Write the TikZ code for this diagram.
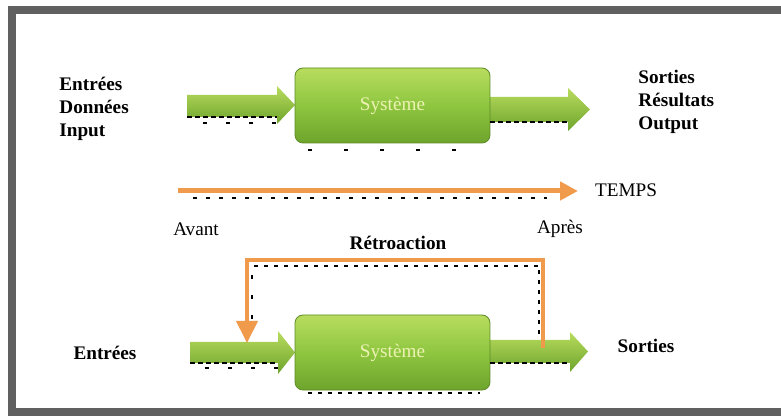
\documentclass[tikz,border=0pt]{standalone}
\usepackage{fontspec}
\setmainfont{Liberation Serif}
\usetikzlibrary{arrows.meta}
\definecolor{framegray}{HTML}{606060}
\definecolor{boxlight}{HTML}{B8DC5E}
\definecolor{boxmid}{HTML}{8EC640}
\definecolor{boxdark}{HTML}{6EA42C}
\definecolor{timeorange}{HTML}{F09A4C}
\definecolor{systext}{HTML}{EEF2B4}

\begin{document}
\begin{tikzpicture}[x=0.5pt,y=-0.5pt,
  every node/.style={font=\fontsize{9.6}{11.5}\selectfont, inner sep=0pt},
  lbl/.style={font=\fontsize{9.6}{11.5}\selectfont\bfseries, align=left},
  sysbox/.style={rounded corners=4pt, top color=boxlight, bottom color=boxdark, middle color=boxmid,
    draw=boxdark!85!black, line width=0.4pt, minimum width=97.5pt, minimum height=37.5pt, text=systext},
  fatarrow/.style={top color=boxlight, bottom color=boxdark},
  edgedash/.style={black, line width=0.7pt, dash pattern=on 2.5pt off 1.5pt},
  marks/.style={black, line width=1.2pt},
  timeline/.style={timeorange, line width=2.5pt, -{Triangle[width=9pt,length=9pt]}},
  loopline/.style={timeorange, line width=2pt, -{Triangle[width=10.5pt,length=11pt]}}]
  \useasboundingbox (0,0) rectangle (781,416);
  % frame
  \begin{scope}
    \clip (0,0) rectangle (781,416);
    \draw[framegray, line width=4pt] (12,10) rectangle (800,412);
  \end{scope}
  % system 1
  \shade[fatarrow] (187,95) -- (277,95) -- (277,86) -- (295,105) -- (277,124) -- (277,117) -- (187,117) -- cycle;
  \shade[fatarrow] (490,97) -- (568,97) -- (568,88) -- (590,109.5) -- (568,131) -- (568,122) -- (490,122) -- cycle;
  \node[sysbox] (sys1) at (392.5,105.5) {Système};
  \draw[edgedash] (187,117) -- (277,117);
  \draw[edgedash] (490,122) -- (568,122);
  \draw[marks, dash pattern=on 2pt off 9.5pt] (203,123) -- (285,123);
  \draw[marks, dash pattern=on 2pt off 16pt] (308,150) -- (460,150);
  \node[lbl, anchor=west] (inlbl) at (59,108.5) {Entrées\\Données\\Input};
  \node[lbl, anchor=west] (outlbl) at (638,101.5) {Sorties\\Résultats\\Output};
  % time line
  \coordinate (t0) at (178,191);
  \coordinate (t1) at (578,191);
  \draw[timeline] (t0) -- (t1);
  \draw[marks, dash pattern=on 2pt off 4.5pt] (193,198) -- (547,198);
  \node (temps) at (626,190) {TEMPS};
  \node (avant) at (196,229) {Avant};
  \node (apres) at (560,229) {Après};
  % system 2 with feedback
  \shade[fatarrow] (190,342) -- (278,342) -- (278,331) -- (295,352.5) -- (278,374) -- (278,363) -- (190,363) -- cycle;
  \shade[fatarrow] (490,340) -- (570,340) -- (570,332) -- (588,351.5) -- (570,372) -- (570,363) -- (490,363) -- cycle;
  \node[sysbox] (sys2) at (392.5,352.5) {Système};
  \draw[edgedash] (190,363) -- (278,363);
  \draw[edgedash] (490,363) -- (570,363);
  \draw[marks, dash pattern=on 2pt off 9.5pt] (205,368) -- (285,368);
  \draw[marks, dash pattern=on 2pt off 3pt] (308,393) -- (480,393);
  \coordinate (fbout) at (543,348);
  \coordinate (fbin) at (247,343);
  \draw[loopline] (fbout) -- (543,260) -| (fbin);
  \draw[marks, dash pattern=on 2pt off 3pt] (254,266) -- (538,266) (539,270) -- (539,335);
  \draw[marks, dash pattern=on 2pt off 8pt] (252,275) -- (252,330);
  \node[lbl] (retro) at (398,243) {Rétroaction};
  \node[lbl] (in2lbl) at (105,353) {Entrées};
  \node[lbl] (out2lbl) at (646,346) {Sorties};
\end{tikzpicture}
\end{document}
